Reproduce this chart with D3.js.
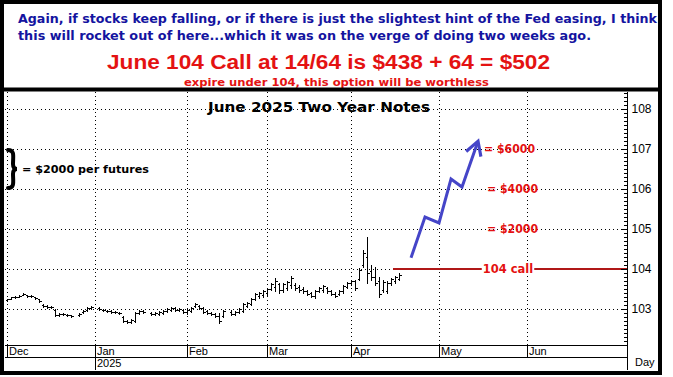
<!DOCTYPE html>
<meta charset="utf-8">
<style>
body { margin: 0; background: #fff; }
svg { display: block; }
.head { font-family: "DejaVu Sans", Verdana, sans-serif; font-weight: bold; }
.axis text { font: 11px "Liberation Sans", Arial, sans-serif; fill: #000; }
.grid line { stroke: #000; stroke-dasharray: 1,3; shape-rendering: crispEdges; }
.bar { stroke: #000; stroke-width: 1; shape-rendering: crispEdges; }
</style>
<body>
<script src="https://d3js.org/d3.v7.min.js"></script>
<script>

// weekday index 0 = Mon Dec 2 2024, null = market holiday
var highs = [103.25,103.30,103.33,103.35,103.40,103.35,103.35,103.30,103.25,103.13,
  103.10,103.08,103.00,102.90,102.90,102.88,102.85,null,102.90,102.98,
  103.05,103.08,null,103.05,103.00,102.98,102.98,102.95,102.93,102.83,
  102.73,102.75,102.93,102.98,102.98,null,102.93,102.93,102.95,102.98,
  103.03,103.05,103.05,103.03,103.00,103.00,103.05,103.15,103.10,103.05,
  102.98,102.93,102.90,102.90,102.98,null,102.98,102.95,103.03,103.15,
  103.18,103.28,103.40,103.43,103.48,103.53,103.65,103.78,103.65,103.65,
  103.70,103.83,103.65,103.60,103.55,103.48,103.43,103.48,103.55,103.60,
  103.55,103.48,103.43,103.48,103.60,103.68,103.73,103.73,104.03,104.48,
  104.80,104.10,104.05,103.80,103.73,103.70,103.78,103.83,103.90];
var lows = [103.20,103.25,103.28,103.30,103.35,103.30,103.30,103.25,103.18,103.05,
  103.03,103.03,102.83,102.83,102.85,102.83,102.80,null,102.83,102.90,
  102.95,103.00,null,102.98,102.95,102.93,102.90,102.90,102.88,102.68,
  102.65,102.65,102.68,102.88,102.90,null,102.85,102.85,102.85,102.88,
  102.93,102.95,102.95,102.95,102.90,102.88,102.93,103.05,103.00,102.90,
  102.88,102.85,102.80,102.65,102.80,null,102.85,102.85,102.90,102.93,
  103.05,103.10,103.23,103.28,103.30,103.35,103.48,103.45,103.40,103.43,
  103.48,103.53,103.48,103.43,103.40,103.35,103.30,103.28,103.43,103.43,
  103.40,103.35,103.30,103.35,103.40,103.53,103.60,103.48,103.73,104.05,
  103.65,103.73,103.60,103.30,103.43,103.40,103.60,103.65,103.73];
var opens = [103.22,103.26,103.29,103.31,103.36,103.34,103.32,103.29,103.24,103.11,
  103.08,103.06,102.98,102.86,102.88,102.86,102.84,null,102.85,102.92,
  102.97,103.02,null,103.03,102.98,102.96,102.96,102.93,102.91,102.80,
  102.70,102.68,102.70,102.90,102.95,null,102.90,102.88,102.88,102.91,
  102.95,102.98,103.02,102.98,102.98,102.92,102.96,103.07,103.08,103.02,
  102.95,102.90,102.88,102.83,102.82,null,102.92,102.88,102.92,102.96,
  103.08,103.13,103.26,103.32,103.34,103.40,103.50,103.55,103.62,103.48,
  103.52,103.60,103.60,103.55,103.50,103.45,103.40,103.32,103.45,103.48,
  103.52,103.45,103.38,103.38,103.45,103.56,103.64,103.70,103.76,104.10,
  104.30,103.95,103.80,103.70,103.48,103.45,103.65,103.70,103.76];
var closes = [103.24,103.29,103.31,103.33,103.38,103.32,103.33,103.27,103.20,103.07,
  103.05,103.05,102.85,102.88,102.87,102.85,102.82,null,102.88,102.96,
  103.03,103.06,null,103.00,102.97,102.95,102.92,102.92,102.90,102.70,
  102.67,102.73,102.90,102.96,102.92,null,102.88,102.91,102.93,102.96,
  103.01,103.03,102.98,103.01,102.93,102.98,103.03,103.12,103.02,102.93,
  102.90,102.88,102.83,102.70,102.95,null,102.88,102.93,103.00,103.13,
  103.15,103.25,103.37,103.40,103.44,103.50,103.62,103.70,103.48,103.62,
  103.67,103.78,103.52,103.47,103.44,103.38,103.33,103.45,103.52,103.57,
  103.44,103.38,103.33,103.45,103.57,103.65,103.70,103.52,103.98,104.40,
  103.90,103.80,103.65,103.38,103.68,103.66,103.75,103.80,103.86];

var monthNames = ["Dec", "Jan", "Feb", "Mar", "Apr", "May", "Jun"];
var monthStarts = [0, 22, 45, 65, 86, 108, 130];
var yearLabel = "2025", yearStart = 22;
var priceTicks = [103, 104, 105, 106, 107, 108];

// hand-drawn rocket arrow (weekday index, price)
var arrowDays = [101, 104.5, 108, 111, 113.75, 117.6];
var arrowPrices = [104.28, 105.3, 105.15, 106.25, 106.05, 107.15];

var callStrike = 104, callFrom = 96.5;
var payoffPrices = [105, 106, 107];
var payoffLabels = ["= $2000", "= $4000", "= $6000"];

var headLines = [
  "Again, if stocks keep falling, or if there is just the slightest hint of the Fed easing, I think",
  "this will rocket out of here...which it was on the verge of doing two weeks ago."];
var bigLine = "June 104 Call at 14/64 is $438 + 64 = $502";
var smallLine = "expire under 104, this option will be worthless";

var W = 673, H = 377;
var plot = {left: 5, right: 627, top: 92, bottom: 345};

var x = d3.scaleLinear().domain([0, 155]).range([7, 627]);
var y = d3.scaleLinear().domain([102.1, 108.425]).range([plot.bottom, plot.top]);

var svg = d3.select("body").append("svg")
    .attr("width", W)
    .attr("height", H);

// header text
svg.selectAll(".hl")
    .data(headLines)
    .enter().append("text")
    .attr("class", "head")
    .attr("x", 18)
    .attr("y", function(d, i) { return 23 + i * 17; })
    .attr("fill", "#1414a0")
    .style("font-size", "12.5px")
    .attr("textLength", function(d, i) { return i == 0 ? 639 : 573; })
    .attr("lengthAdjust", "spacingAndGlyphs")
    .text(function(d) { return d; });

svg.append("text")
    .attr("x", 107).attr("y", 69)
    .attr("fill", "#e41212")
    .style("font", "bold 20px 'Liberation Sans', Arial, sans-serif")
    .attr("textLength", 443)
    .attr("lengthAdjust", "spacingAndGlyphs")
    .text(bigLine);

svg.append("text")
    .attr("class", "head")
    .attr("x", 184).attr("y", 86)
    .attr("fill", "#e41212")
    .style("font-size", "10.5px")
    .attr("textLength", 305)
    .attr("lengthAdjust", "spacingAndGlyphs")
    .text(smallLine);

// gridlines
var grid = svg.append("g").attr("class", "grid");
grid.selectAll(".gy")
    .data(priceTicks)
    .enter().append("line")
    .attr("x1", plot.left).attr("x2", plot.right)
    .attr("y1", function(d) { return Math.round(y(d)) + 0.5; })
    .attr("y2", function(d) { return Math.round(y(d)) + 0.5; });
grid.selectAll(".gx")
    .data(monthStarts)
    .enter().append("line")
    .attr("x1", function(d) { return Math.round(x(d)) + 0.5; })
    .attr("x2", function(d) { return Math.round(x(d)) + 0.5; })
    .attr("y1", plot.top).attr("y2", plot.bottom);

// price bars
var days = d3.range(highs.length).filter(function(i) { return highs[i] != null; });
var bars = svg.append("g");
days.forEach(function(i) {
    var cx = Math.round(x(i)) + 0.5;
    bars.append("line").attr("class", "bar")
        .attr("x1", cx).attr("x2", cx)
        .attr("y1", Math.round(y(highs[i]))).attr("y2", Math.round(y(lows[i])) + 1);
    bars.append("line").attr("class", "bar")
        .attr("x1", cx - 2).attr("x2", cx)
        .attr("y1", Math.round(y(opens[i])) + 0.5).attr("y2", Math.round(y(opens[i])) + 0.5);
    bars.append("line").attr("class", "bar")
        .attr("x1", cx).attr("x2", cx + 2)
        .attr("y1", Math.round(y(closes[i])) + 0.5).attr("y2", Math.round(y(closes[i])) + 0.5);
});

// chart title
svg.append("text")
    .attr("class", "head")
    .attr("x", 208).attr("y", 112)
    .style("font-size", "14px")
    .attr("textLength", 222)
    .attr("lengthAdjust", "spacingAndGlyphs")
    .text("June 2025 Two Year Notes");

// brace note: one point = $2000
var b0 = y(107), b1 = y(106), bm = (b0 + b1) / 2;
svg.append("path")
    .attr("d", "M8," + (b0 + 1) + " C15," + (b0 + 1) + " 13," + (bm - 12) + " 13," + (bm - 5) +
        " C13," + (bm - 1) + " 15," + bm + " 17," + bm +
        " C15," + bm + " 13," + (bm + 1) + " 13," + (bm + 5) +
        " C13," + (bm + 12) + " 15," + (b1 - 1) + " 8," + (b1 - 1))
    .attr("fill", "none")
    .attr("stroke", "#000")
    .attr("stroke-width", 4)
    .attr("stroke-linecap", "round");
svg.append("text")
    .attr("class", "head")
    .attr("x", 22).attr("y", bm + 4)
    .style("font-size", "11px")
    .attr("textLength", 127)
    .attr("lengthAdjust", "spacingAndGlyphs")
    .text("= $2000 per futures");

// 104 call line
svg.append("line")
    .attr("x1", x(callFrom)).attr("x2", x(155))
    .attr("y1", y(callStrike)).attr("y2", y(callStrike))
    .attr("stroke", "#b01818")
    .attr("stroke-width", 2);
var bgr = svg.append("rect").attr("fill", "#fff");
var cl = svg.append("text")
    .attr("class", "head")
    .attr("x", 508).attr("y", y(callStrike) + 4)
    .attr("text-anchor", "middle")
    .attr("fill", "#e41212")
    .style("font-size", "11.5px")
    .text("104 call");
var bb = cl.node().getBBox();
bgr.attr("x", bb.x - 1).attr("y", bb.y + 1)
    .attr("width", bb.width + 2).attr("height", bb.height - 2);

// payoff labels
svg.selectAll(".pay")
    .data(payoffPrices)
    .enter().append("text")
    .attr("class", "head")
    .attr("x", function(d, i) { return i == 2 ? 484 : 487; })
    .attr("y", function(d) { return y(d) + 4; })
    .attr("fill", "#e41212")
    .style("font-size", "11.5px")
    .attr("textLength", 51)
    .attr("lengthAdjust", "spacingAndGlyphs")
    .text(function(d, i) { return payoffLabels[i]; });

// rocket arrow
svg.append("defs").append("marker")
    .attr("id", "head")
    .attr("viewBox", "0 0 10 10")
    .attr("refX", 7).attr("refY", 5)
    .attr("markerWidth", 6.5).attr("markerHeight", 6.5)
    .attr("orient", "auto")
    .append("path")
    .attr("d", "M1,1 L8,5 L1,9")
    .attr("fill", "none")
    .attr("stroke", "#4545c8")
    .attr("stroke-width", 1.6);
var arrowPts = arrowDays.map(function(d, i) { return [x(d), y(arrowPrices[i])]; });
svg.append("path")
    .attr("d", d3.line()(arrowPts))
    .attr("fill", "none")
    .attr("stroke", "#4545c8")
    .attr("stroke-width", 3)
    .attr("stroke-linejoin", "miter")
    .attr("marker-end", "url(#head)");

// right price axis
var yAxis = d3.axisRight(y)
    .tickValues(priceTicks)
    .tickSize(0)
    .tickPadding(4)
    .tickFormat(d3.format("d"));
var ya = svg.append("g")
    .attr("class", "axis")
    .attr("transform", "translate(" + (plot.right + 0.5) + ",0)")
    .call(yAxis);
ya.select(".domain").remove();
ya.selectAll("text").style("font-size", "12px");
var minor = d3.range(1021, 1085).map(function(d) { return d / 10; });
svg.append("g").selectAll("line")
    .data(minor)
    .enter().append("line")
    .attr("x1", function(d) { return Math.abs(d - Math.round(d)) < 0.01 ? plot.right - 6 : plot.right - 3; })
    .attr("x2", plot.right)
    .attr("y1", function(d) { return Math.round(y(d)) + 0.5; })
    .attr("y2", function(d) { return Math.round(y(d)) + 0.5; })
    .attr("stroke", "#000")
    .attr("shape-rendering", "crispEdges");

// bottom date axis
var frame = svg.append("g").attr("stroke", "#000").attr("shape-rendering", "crispEdges");
frame.append("line").attr("x1", plot.left).attr("x2", plot.right)
    .attr("y1", 345.5).attr("y2", 345.5);
frame.append("line").attr("x1", plot.left).attr("x2", plot.right)
    .attr("y1", 357.5).attr("y2", 357.5);
frame.append("line").attr("x1", plot.right + 0.5).attr("x2", plot.right + 0.5)
    .attr("y1", plot.top).attr("y2", 370);
frame.selectAll(".mt")
    .data(monthStarts)
    .enter().append("line")
    .attr("x1", function(d) { return Math.round(x(d)) + 0.5; })
    .attr("x2", function(d) { return Math.round(x(d)) + 0.5; })
    .attr("y1", 345).attr("y2", 357);
frame.append("line")
    .attr("x1", Math.round(x(yearStart)) + 0.5).attr("x2", Math.round(x(yearStart)) + 0.5)
    .attr("y1", 357).attr("y2", 370);

var ax = svg.append("g").attr("class", "axis");
ax.selectAll(".ml")
    .data(monthStarts)
    .enter().append("text")
    .attr("x", function(d) { return Math.round(x(d)) + 2; })
    .attr("y", 355)
    .text(function(d, i) { return monthNames[i]; });
ax.append("text")
    .attr("x", Math.round(x(yearStart)) + 2).attr("y", 367)
    .text(yearLabel);
ax.append("text")
    .attr("x", 635).attr("y", 366)
    .text("Day");

// outer frame and header divider
svg.append("rect")
    .attr("x", 2).attr("y", 2)
    .attr("width", 658).attr("height", 371)
    .attr("fill", "none")
    .attr("stroke", "#000")
    .attr("stroke-width", 4);
svg.append("line")
    .attr("x1", 0).attr("x2", 662)
    .attr("y1", 89.5).attr("y2", 89.5)
    .attr("stroke", "#000")
    .attr("stroke-width", 4);

</script>
</body>
